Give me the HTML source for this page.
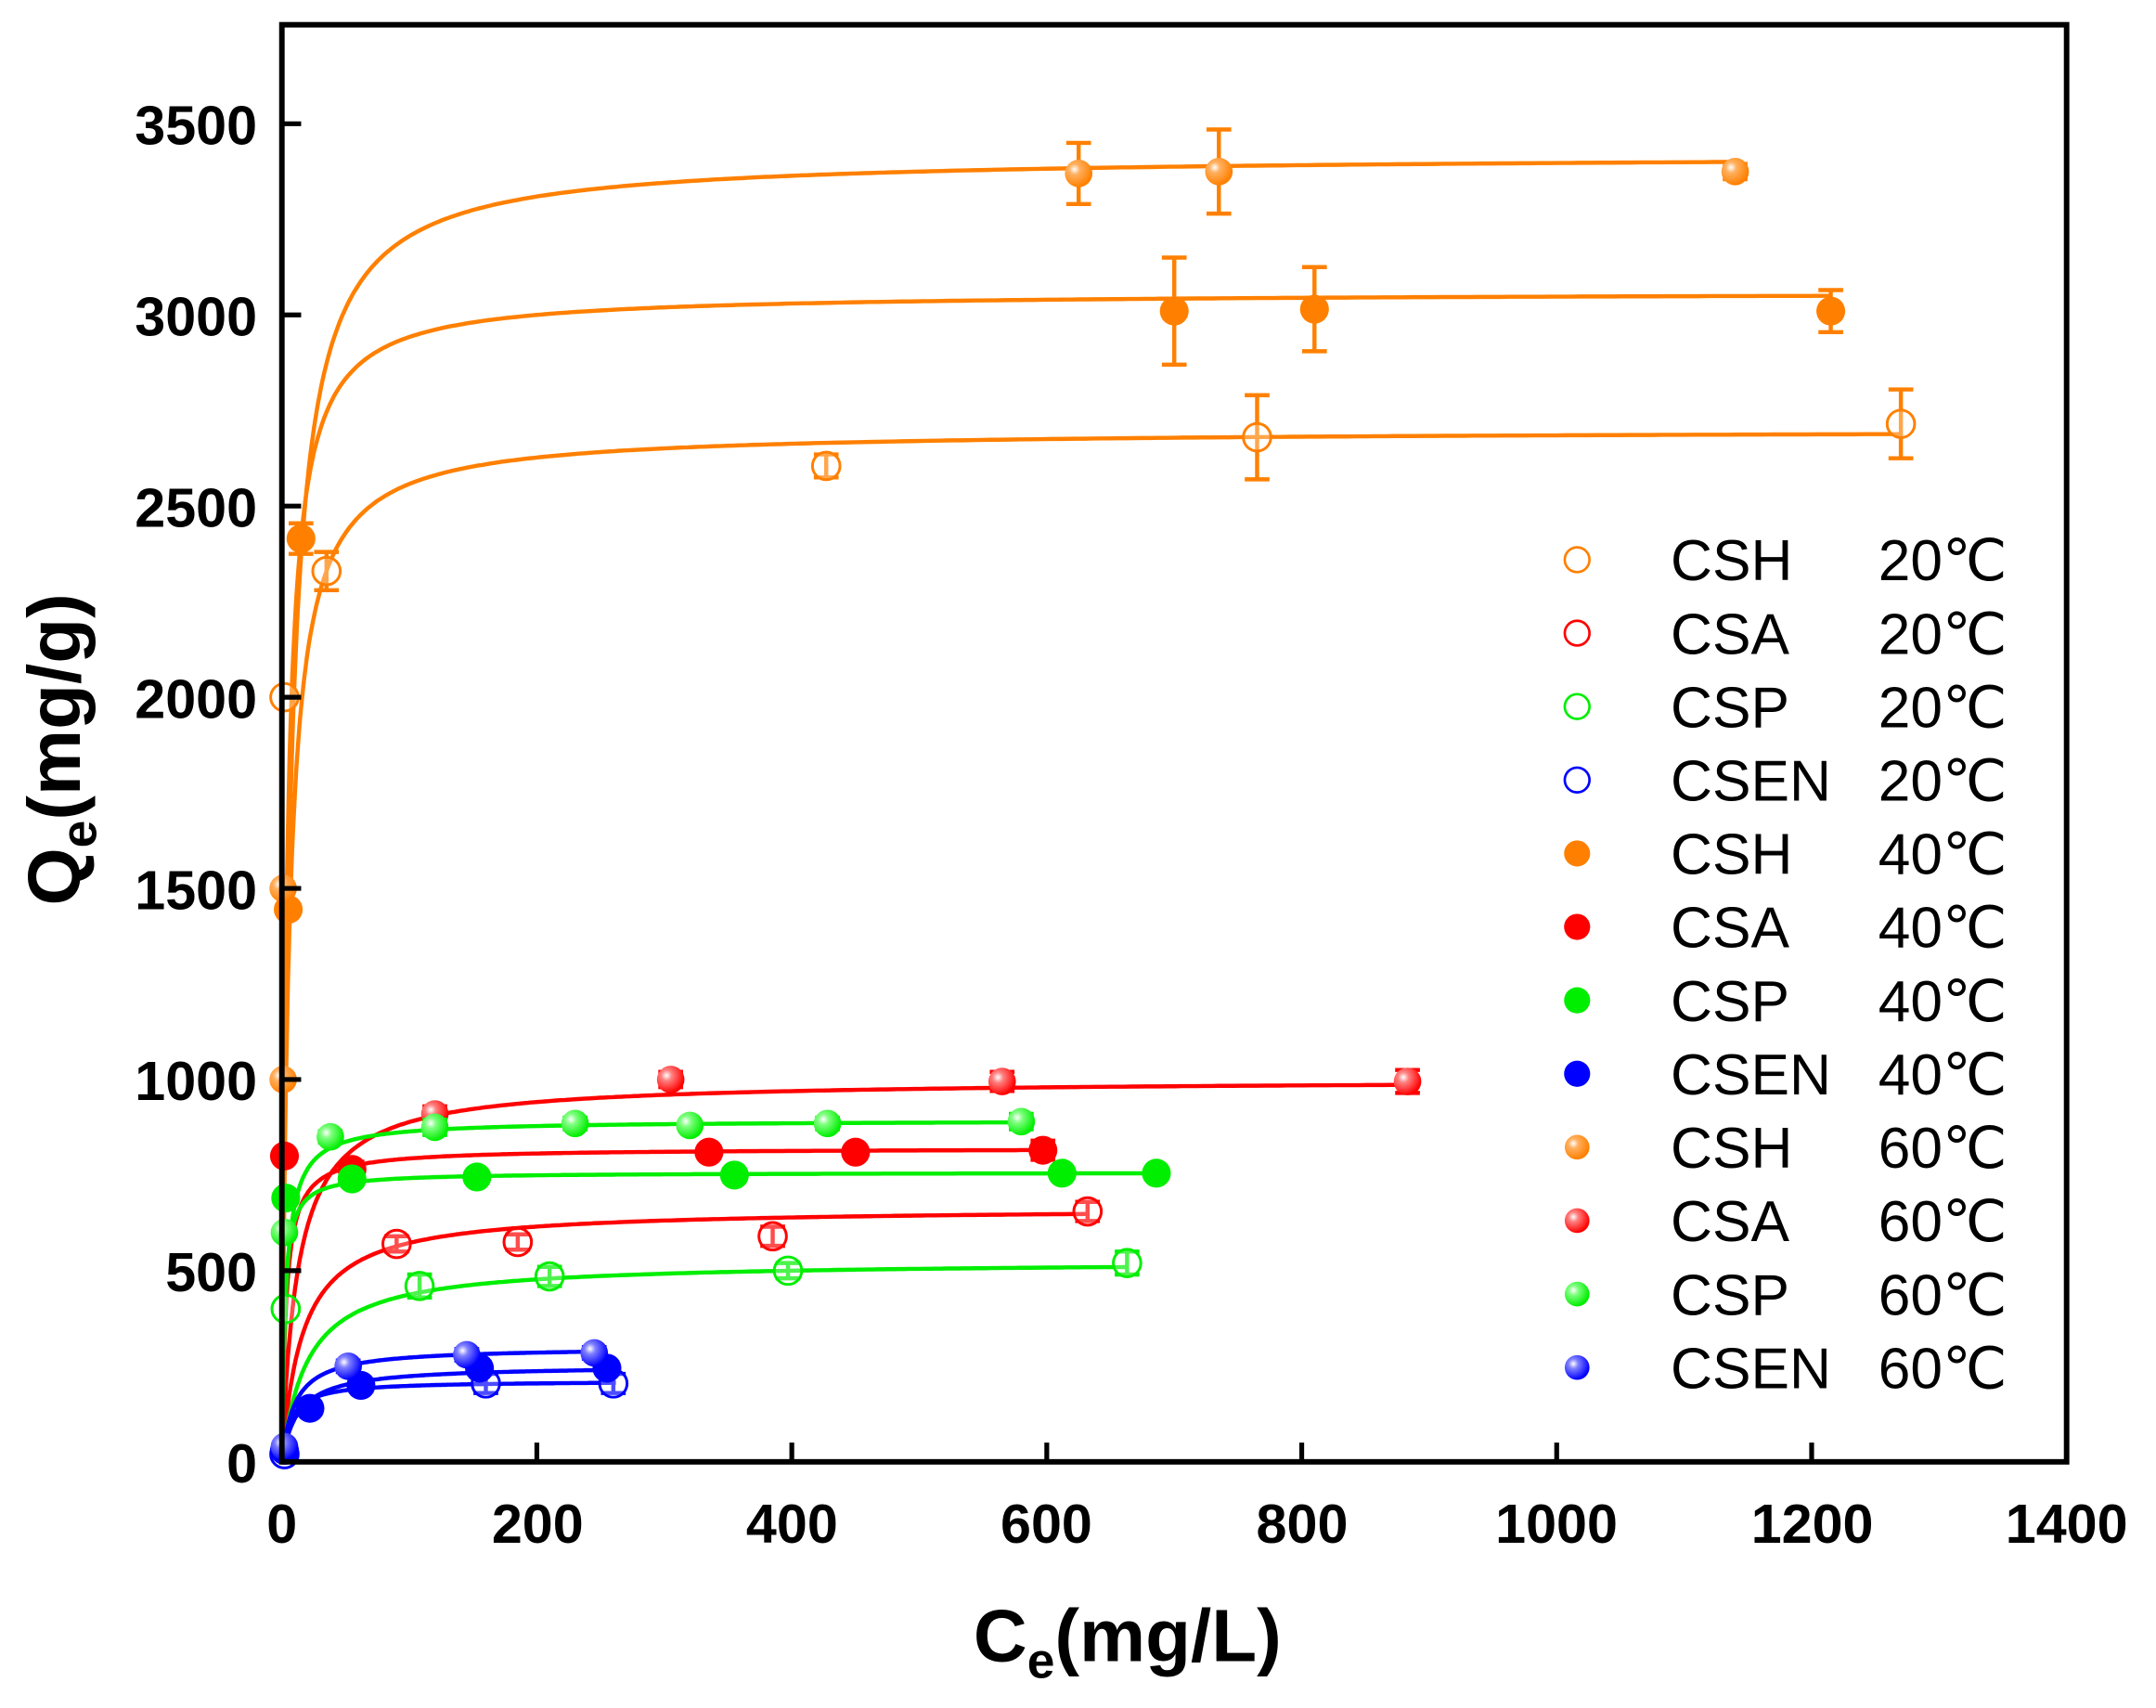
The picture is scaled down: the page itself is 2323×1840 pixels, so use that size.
<!DOCTYPE html>
<html><head><meta charset="utf-8"><style>
html,body{margin:0;padding:0;background:#fff}
svg{display:block}
text{font-family:"Liberation Sans",Arial,sans-serif}
</style></head><body>
<svg id="s" width="2323" height="1840" viewBox="0 0 1568 1242" xmlns="http://www.w3.org/2000/svg">
<defs>
<radialGradient id="gO" cx="35%" cy="35%" r="65%"><stop offset="0" stop-color="#fff"/><stop offset="0.3" stop-color="#ffb060"/><stop offset="1" stop-color="#ff8000"/></radialGradient>
<radialGradient id="gR" cx="35%" cy="35%" r="65%"><stop offset="0" stop-color="#fff"/><stop offset="0.3" stop-color="#ff8080"/><stop offset="1" stop-color="#f00"/></radialGradient>
<radialGradient id="gG" cx="35%" cy="35%" r="65%"><stop offset="0" stop-color="#fff"/><stop offset="0.3" stop-color="#80ff80"/><stop offset="1" stop-color="#0e0"/></radialGradient>
<radialGradient id="gB" cx="35%" cy="35%" r="65%"><stop offset="0" stop-color="#fff"/><stop offset="0.3" stop-color="#8080ff"/><stop offset="1" stop-color="#00f"/></radialGradient>
</defs>
<g id="plot"></g>
<rect x="205" y="18" width="1298" height="1045" fill="none" stroke="#000" stroke-width="4"/>
<g id="ticks" stroke="#000" stroke-width="3.5"></g>
<g font-weight="bold" font-size="40" text-anchor="end">
<text x="187" y="1078">0</text><text x="187" y="939">500</text><text x="187" y="800">1000</text><text x="187" y="661">1500</text><text x="187" y="522">2000</text><text x="187" y="383">2500</text><text x="187" y="244">3000</text><text x="187" y="105">3500</text>
</g>
<g font-weight="bold" font-size="40" text-anchor="middle">
<text x="205" y="1122">0</text><text x="391" y="1122">200</text><text x="576" y="1122">400</text><text x="761" y="1122">600</text><text x="947" y="1122">800</text><text x="1132" y="1122">1000</text><text x="1318" y="1122">1200</text><text x="1503" y="1122">1400</text>
</g>
<text x="820" y="1208" font-weight="bold" font-size="54" text-anchor="middle">C<tspan font-size="36" dy="12">e</tspan><tspan dy="-12">(mg/L)</tspan></text>
<text transform="translate(58,545) rotate(-90)" font-weight="bold" font-size="54" text-anchor="middle">Q<tspan font-size="36" dy="12">e</tspan><tspan dy="-12">(mg/g)</tspan></text>
<g id="leg" font-size="42"></g>
</svg>
<script>
const NS="http://www.w3.org/2000/svg";
const X=v=>205+v*1298/1400, Y=v=>1063-v*973/3500;
const plot=document.getElementById('plot');
function el(t,a,p){const e=document.createElementNS(NS,t);for(const k in a)e.setAttribute(k,a[k]);(p||plot).appendChild(e);return e;}
const col={o:"#ff8000",r:"#f00",g:"#0e0",b:"#00f"};
const grad={o:"url(#gO)",r:"url(#gR)",g:"url(#gG)",b:"url(#gB)"};
const S=[
 ['o',0,2700,0.18,1270,[[2,2000,0],[35,2330,50],[427,2605,30],[765,2680,110],[1270,2715,90]]],
 ['o',1,3060,0.25,1215,[[5,1445,0],[15,2415,40],[700,3010,140],[810,3015,110],[1215,3010,55]]],
 ['o',2,3420,0.15,1140,[[1,1000,0],[1,1500,0],[625,3370,80],[735,3375,110],[1140,3375,20]]],
 ['r',0,665,0.062,632,[[90,570,20],[185,575,20],[385,590,25],[632,655,25]]],
 ['r',1,820,0.3,597,[[2,800,0],[55,765,20],[335,810,15],[450,810,15],[597,815,25]]],
 ['r',2,1000,0.08,883,[[120,910,20],[305,1000,20],[565,995,25],[883,995,30]]],
 ['g',0,525,0.05,663,[[3,400,0],[108,460,30],[210,485,25],[397,500,20],[663,520,30]]],
 ['g',1,757,0.5,686,[[3,690,0],[55,740,15],[153,745,10],[355,750,15],[612,755,10],[686,755,10]]],
 ['g',2,893,0.3,580,[[2,600,0],[38,850,15],[120,875,20],[230,885,15],[320,880,10],[428,885,15],[580,890,20]]],
 ['b',0,212,0.15,262,[[2,20,0],[160,205,25],[260,205,25]]],
 ['b',1,252,0.08,258,[[2,30,0],[22,140,15],[62,200,15],[155,245,15],[255,245,15]]],
 ['b',2,300,0.1,248,[[2,40,0],[52,250,15],[145,280,15],[245,285,15]]],
];
S.forEach(([c,t,qm,K,end])=>{let d="";for(let i=0;i<=300;i++){const C=end*Math.pow(i/300,2.2);const q=qm*K*C/(1+K*C);d+=(i?"L":"M")+X(C).toFixed(1)+" "+Y(q).toFixed(1);}
 el('path',{d,fill:'none',stroke:col[c],'stroke-width':3});});
S.forEach(([c,t,qm,K,end,pts])=>{pts.forEach(([C,q,e])=>{const x=X(C),y=Y(q);
 if(e){const y1=Y(q+e),y2=Y(q-e);el('path',{d:`M${x} ${y1}V${y2}M${x-9} ${y1}H${x+9}M${x-9} ${y2}H${x+9}`,stroke:col[c],'stroke-width':3,fill:'none'});}
 if(t==0)el('circle',{cx:x,cy:y,r:10,fill:'#fff','fill-opacity':0.3,stroke:col[c],'stroke-width':2});
 else if(t==1)el('circle',{cx:x,cy:y,r:10.5,fill:col[c]});
 else el('circle',{cx:x,cy:y,r:10,fill:grad[c]});});});
const tk=document.getElementById('ticks');
for(let v=200;v<1400;v+=200)el('line',{x1:X(v),x2:X(v),y1:1063,y2:1049},tk);
for(let v=500;v<=3500;v+=500)el('line',{x1:205,x2:219,y1:Y(v),y2:Y(v)},tk);
const lg=document.getElementById('leg');
const names=["CSH","CSA","CSP","CSEN"],cs=['o','r','g','b'],temps=["20℃","40℃","60℃"];
let row=0;
for(let t=0;t<3;t++)for(let i=0;i<4;i++){const y=407+row*53.4;row++;
 if(t==0)el('circle',{cx:1147,cy:y,r:9,fill:'#fff',stroke:col[cs[i]],'stroke-width':1.8},lg);
 else if(t==1)el('circle',{cx:1147,cy:y,r:9.5,fill:col[cs[i]]},lg);
 else el('circle',{cx:1147,cy:y,r:9,fill:grad[cs[i]]},lg);
 const a=el('text',{x:1215,y:y+15},lg);a.textContent=names[i];
 const b=el('text',{x:1366,y:y+15,'font-family':'"Liberation Sans","Noto Sans CJK SC",sans-serif'},lg);b.textContent=temps[t];}
</script>
</body></html>
